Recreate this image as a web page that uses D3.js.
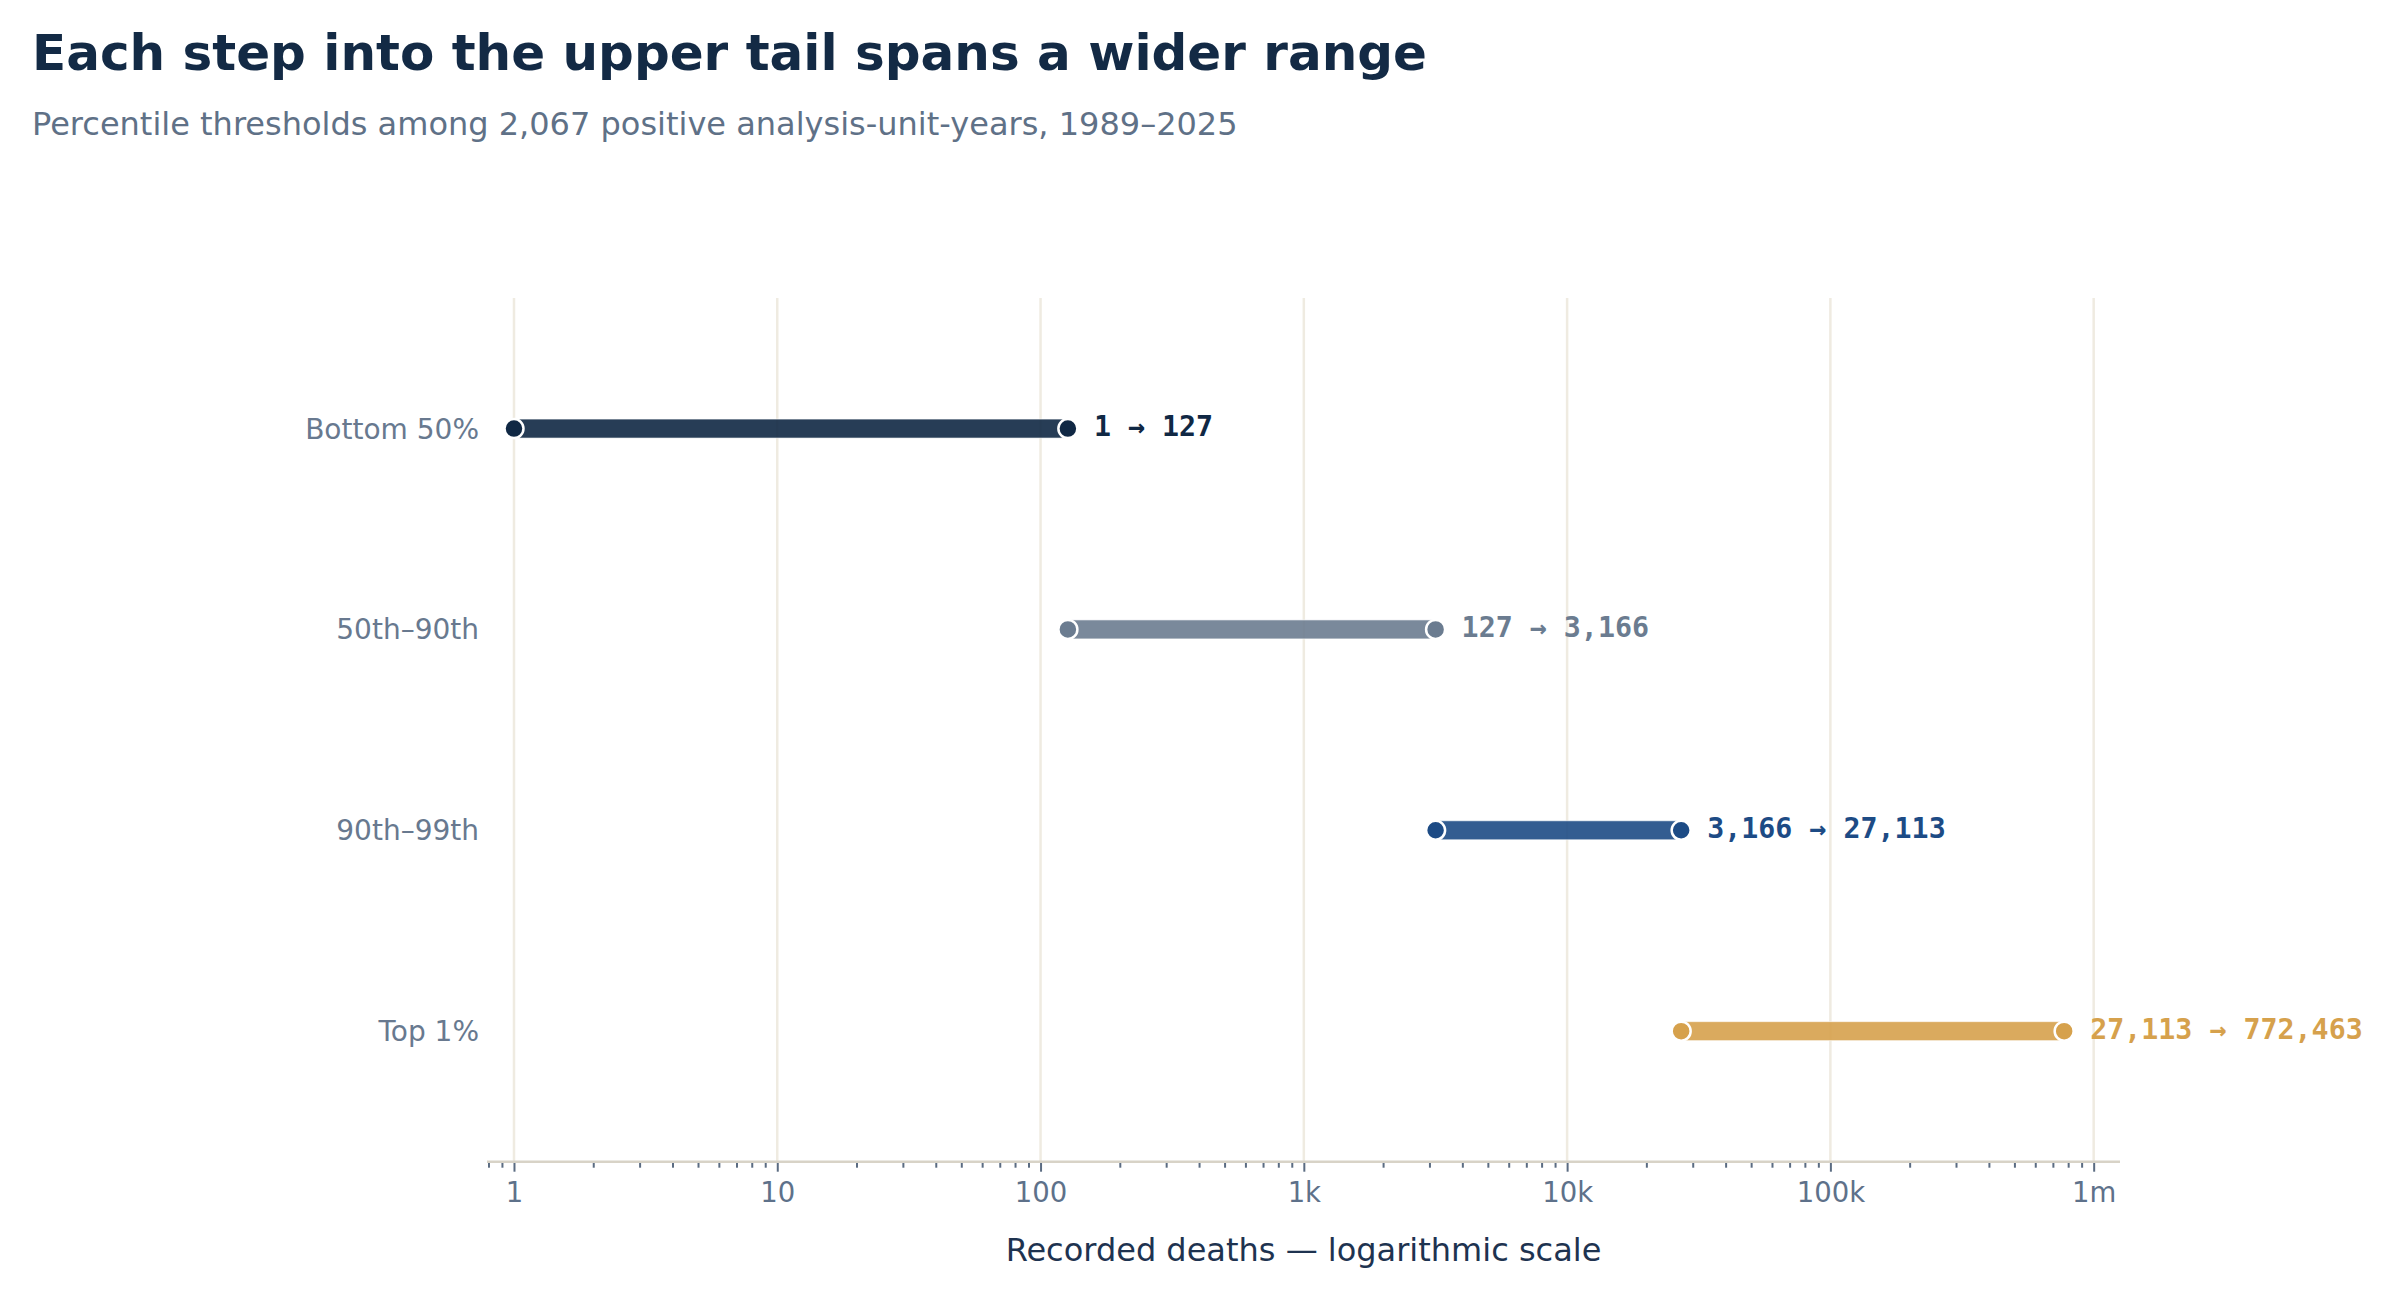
<!DOCTYPE html>
<html>
<head>
<meta charset="utf-8">
<script src="https://cdn.jsdelivr.net/npm/d3@7"></script>
<style>
  body { margin: 0; background: #fff; }
</style>
</head>
<body>
<div id="chart-area"></div>
<script>
// percentile bands and their threshold values
var categories = ["Bottom 50%", "50th–90th", "90th–99th", "Top 1%"];
var lowValues = [1, 127, 3166, 27113];
var highValues = [127, 3166, 27113, 772463];
var bandColors = ["#102844", "#6b7c90", "#1d4b85", "#d6a14c"];
var majorTicks = [1, 10, 100, 1000, 10000, 100000, 1000000];
var tickLabels = ["1", "10", "100", "1k", "10k", "100k", "1m"];

var W = 2396, H = 1301;
var SANS = "DejaVu Sans", MONO = "DejaVu Sans Mono";

var svg = d3.select("#chart-area").append("svg")
    .attr("width", W)
    .attr("height", H)
    .style("font-family", SANS);

var x = d3.scaleLog()
    .domain([Math.pow(10, -0.1025), Math.pow(10, 6.1)])
    .range([487, 2120]);

var y = d3.scalePoint()
    .domain(categories)
    .range([298, 1161.7])
    .padding(0.65);

var rows = categories.map((c, i) => {
    return {name: c, lo: lowValues[i], hi: highValues[i], color: bandColors[i]};
});

// minor ticks 2..9 in every decade inside the domain
var minorTicks = [];
for (var e = -1; e <= 6; e++) {
    for (var m = 2; m <= 9; m++) {
        var v = m * Math.pow(10, e);
        if (v >= x.domain()[0] && v <= x.domain()[1]) minorTicks.push(v);
    }
}

// vertical grid
svg.append("g").selectAll("line")
    .data(majorTicks)
    .enter().append("line")
        .attr("x1", (d) => x(d))
        .attr("x2", (d) => x(d))
        .attr("y1", 298)
        .attr("y2", 1161.7)
        .attr("stroke", "#efebe1")
        .attr("stroke-width", 2.5);

// axes
var minorAxis = svg.append("g")
    .attr("transform", "translate(0,1161.7)")
    .call(d3.axisBottom(x).tickValues(minorTicks).tickSize(6).tickSizeOuter(0).tickFormat(""));
minorAxis.select(".domain").remove();
minorAxis.selectAll("line").attr("stroke", "#5b6c82").attr("stroke-width", 2);

var majorAxis = svg.append("g")
    .attr("transform", "translate(0,1161.7)")
    .call(d3.axisBottom(x).tickValues(majorTicks).tickSize(10).tickPadding(11).tickSizeOuter(0)
        .tickFormat((d, i) => tickLabels[i]));
majorAxis.select(".domain").remove();
majorAxis.selectAll("line").attr("stroke", "#5b6c82").attr("stroke-width", 2);
majorAxis.selectAll("text")
    .style("font-family", SANS)
    .style("font-size", "27.5px")
    .attr("fill", "#5e718a");

svg.append("line")
    .attr("x1", 487).attr("x2", 2120)
    .attr("y1", 1161.7).attr("y2", 1161.7)
    .attr("stroke", "#d8d3c7")
    .attr("stroke-width", 2.5);

// bars
svg.append("g").selectAll("rect")
    .data(rows)
    .enter().append("rect")
        .attr("x", (d) => x(d.lo))
        .attr("y", (d) => y(d.name) - 9.5)
        .attr("width", (d) => x(d.hi) - x(d.lo))
        .attr("height", 19)
        .attr("fill", (d) => d.color)
        .attr("fill-opacity", 0.9)
        .attr("stroke", "#ffffff")
        .attr("stroke-opacity", 0.6)
        .attr("stroke-width", 1);

// endpoint dots
var dots = [];
rows.forEach((d) => {
    dots.push({name: d.name, v: d.lo, color: d.color});
    dots.push({name: d.name, v: d.hi, color: d.color});
});
svg.append("g").selectAll("circle")
    .data(dots)
    .enter().append("circle")
        .attr("cx", (d) => x(d.v))
        .attr("cy", (d) => y(d.name))
        .attr("r", 9.5)
        .attr("fill", (d) => d.color)
        .attr("stroke", "#ffffff")
        .attr("stroke-width", 2.5);

// range labels
var fmt = d3.format(",");
svg.append("g").selectAll("text")
    .data(rows)
    .enter().append("text")
        .attr("x", (d) => x(d.hi) + 26)
        .attr("y", (d) => y(d.name))
        .attr("dy", "0.27em")
        .style("font-family", MONO)
        .style("font-weight", "bold")
        .style("font-size", "28.3px")
        .attr("fill", (d) => d.color)
        .text((d) => fmt(d.lo) + " → " + fmt(d.hi));

// category labels
svg.append("g").selectAll("text")
    .data(categories)
    .enter().append("text")
        .attr("x", 479)
        .attr("y", (d) => y(d))
        .attr("dy", "0.36em")
        .attr("text-anchor", "end")
        .style("font-size", "28px")
        .attr("fill", "#68798f")
        .text((d) => d);

// titles
svg.append("text")
    .attr("x", 32).attr("y", 70)
    .style("font-size", "50px")
    .style("font-weight", "bold")
    .attr("fill", "#132a45")
    .text("Each step into the upper tail spans a wider range");

svg.append("text")
    .attr("x", 32).attr("y", 135)
    .style("font-size", "32px")
    .attr("fill", "#5f7187")
    .text("Percentile thresholds among 2,067 positive analysis-unit-years, 1989–2025");

svg.append("text")
    .attr("x", 1303.5).attr("y", 1261)
    .attr("text-anchor", "middle")
    .style("font-size", "32px")
    .attr("fill", "#1e3350")
    .text("Recorded deaths — logarithmic scale");
</script>
</body>
</html>
